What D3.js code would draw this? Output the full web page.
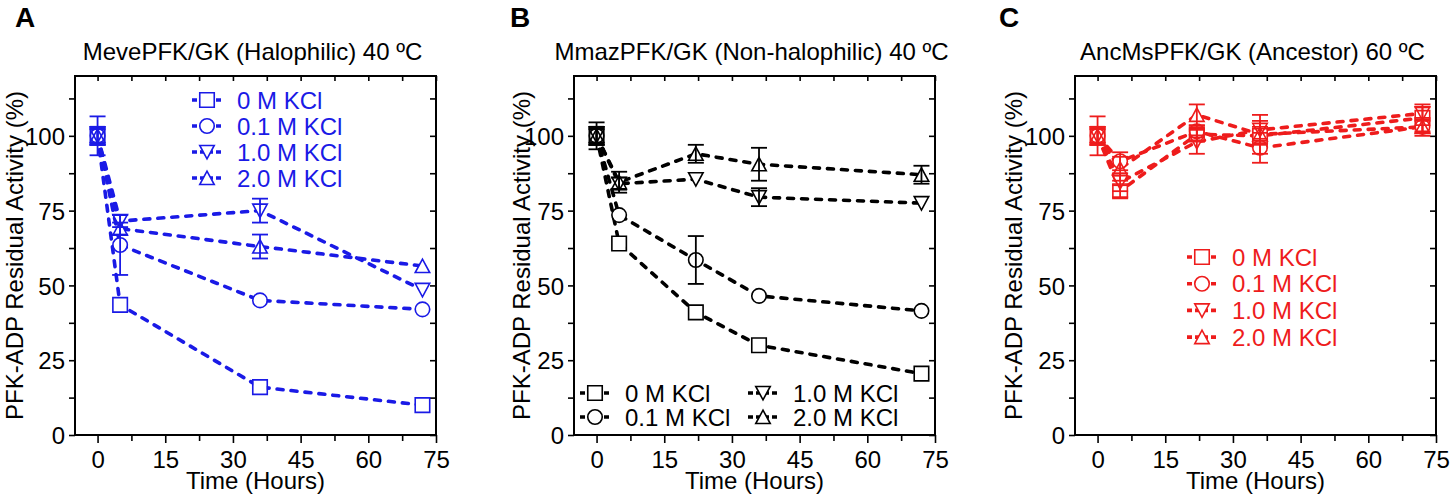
<!DOCTYPE html>
<html lang="en">
<head>
<meta charset="UTF-8">
<title>PFK/GK residual activity</title>
<script src="https://cdnjs.cloudflare.com/ajax/libs/d3/7.8.5/d3.min.js"></script>
<style>
  body { margin: 0; padding: 0; background: #fff; }
  svg { display: block; font-family: Arial, "Liberation Sans", sans-serif; }
</style>
</head>
<body>
<svg id="chart" width="1452" height="499"></svg>
<script>
  // ---- data ----
  const seriesNames = ["0 M KCl", "0.1 M KCl", "1.0 M KCl", "2.0 M KCl"];
  const markerTypes = ["square", "circle", "down", "up"];

  const xTicks = [0, 15, 30, 45, 60, 75];
  const yTicks = [0, 25, 50, 75, 100];

  // Panel A: MevePFK/GK (Halophilic) 40 ºC
  const timesA = [0, 5, 36, 72];
  const a0M   = [100, 43.5, 16, 10];
  const a01M  = [100, 63.5, 45, 42];
  const a1M   = [100, 71.5, 75, 48.5];
  const a2M   = [100, 69, 63, 56.5];
  const a0Err  = [6.5, 0, 0, 0];
  const a01Err = [3, 10, 0, 0];
  const a1Err  = [3, 2, 4, 0];
  const a2Err  = [3, 2, 4, 0];

  // Panel B: MmazPFK/GK (Non-halophilic) 40 ºC
  const timesB = [0, 5, 22, 36, 72];
  const b0M   = [100, 64, 41, 30, 20.5];
  const b01M  = [100, 73.5, 58.5, 46.5, 41.5];
  const b1M   = [100, 84, 85.5, 79.5, 77.5];
  const b2M   = [100, 84.5, 94, 90.5, 87];
  const b0Err  = [4.5, 0, 0, 0, 0];
  const b01Err = [3, 0, 8, 0, 0];
  const b1Err  = [3, 2, 0, 3, 0];
  const b2Err  = [3, 3.5, 3, 5.5, 3];

  // Panel C: AncMsPFK/GK (Ancestor) 60 ºC
  const timesC = [0, 5, 22, 36, 72];
  const c0M   = [100, 81.5, 100.5, 100, 106];
  const c01M  = [100, 91.5, 101.5, 96, 103];
  const c1M   = [100, 84.5, 98, 102, 107.5];
  const c2M   = [100, 89, 107, 100.5, 103];
  const c0Err  = [6.5, 2, 2, 3, 4.5];
  const c01Err = [3, 3, 2, 5, 2];
  const c1Err  = [3, 3, 4, 3, 2];
  const c2Err  = [3, 4, 3.5, 6.5, 3];

  const panels = [
    { letter: "A", title: "MevePFK/GK (Halophilic) 40 ºC", color: "#1a1ae6", left: 75, yLabelX: 23, letterX: 15,
      times: timesA, values: [a0M, a01M, a1M, a2M], errors: [a0Err, a01Err, a1Err, a2Err],
      legend: { cols: 1, x: 207, y: 100, dy: 26, colDx: 0 } },
    { letter: "B", title: "MmazPFK/GK (Non-halophilic) 40 ºC", color: "#000", left: 574, yLabelX: 530, letterX: 510,
      times: timesB, values: [b0M, b01M, b1M, b2M], errors: [b0Err, b01Err, b1Err, b2Err],
      legend: { cols: 2, x: 595, y: 393, dy: 24, colDx: 168 } },
    { letter: "C", title: "AncMsPFK/GK (Ancestor) 60 ºC", color: "#ee1c1c", left: 1075, yLabelX: 1022, letterX: 999,
      times: timesC, values: [c0M, c01M, c1M, c2M], errors: [c0Err, c01Err, c1Err, c2Err],
      legend: { cols: 1, x: 1202, y: 257, dy: 26.7, colDx: 0 } }
  ];

  const svg = d3.select("#chart");
  const defs = svg.append("defs");
  const plotTop = 76, W = 361, H = 359, markSize = 14.5;

  function markerPath(type, s) {
    const h = s / 2;
    if (type === "square") return `M${-h},${-h}H${h}V${h}H${-h}Z`;
    if (type === "circle") return `M${h},0A${h},${h} 0 1,1 ${-h},0A${h},${h} 0 1,1 ${h},0Z`;
    if (type === "down") return `M${-h},${-h * 0.9}H${h}L0,${h * 0.95}Z`;
    return `M${-h},${h * 0.9}H${h}L0,${-h * 0.95}Z`;
  }

  panels.forEach(p => {
    const x = d3.scaleLinear().domain([-5, 75]).range([0, W]);
    const y = d3.scaleLinear().domain([0, 120]).range([H, 0]);
    const g = svg.append("g").attr("transform", `translate(${p.left},${plotTop})`);

    // panel letter and title
    svg.append("text").attr("x", p.letterX).attr("y", 27)
      .attr("font-size", 28).attr("font-weight", "bold").text(p.letter);
    svg.append("text").attr("x", p.left + W / 2 - 3).attr("y", 60)
      .attr("text-anchor", "middle").attr("font-size", 24).text(p.title);

    // axes
    const xAll = d3.range(0, 75.01, 7.5);
    const yAll = d3.range(0, 119, 12.5);

    const gx = g.append("g").attr("transform", `translate(0,${H})`)
      .call(d3.axisBottom(x).tickValues(xAll).tickSize(8)
        .tickFormat(d => xTicks.includes(d) ? d : ""));
    gx.selectAll(".tick line").attr("y2", d => xTicks.includes(d) ? 8 : 6);
    gx.selectAll(".tick text").attr("y", 33).attr("dy", 0).attr("font-size", 24);

    const gy = g.append("g")
      .call(d3.axisLeft(y).tickValues(yAll).tickSize(6).tickPadding(4)
        .tickFormat(d => yTicks.includes(d) ? d : ""));
    gy.selectAll(".tick text").attr("dy", "0.36em").attr("font-size", 24);

    g.append("g").call(d3.axisTop(x).tickValues(xAll).tickSize(-5).tickFormat(""));
    g.append("g").attr("transform", `translate(${W},0)`)
      .call(d3.axisRight(y).tickValues(yAll).tickSize(-6).tickFormat(""));

    g.selectAll(".domain").remove();
    g.selectAll(".tick line").attr("stroke", "#000").attr("stroke-width", 1.6);
    g.selectAll(".tick text").attr("fill", "#000").attr("font-family", "Arial, 'Liberation Sans', sans-serif");

    g.append("rect").attr("width", W).attr("height", H)
      .attr("fill", "none").attr("stroke", "#000").attr("stroke-width", 2);

    // axis titles
    svg.append("text").attr("x", p.left + W / 2).attr("y", 489)
      .attr("text-anchor", "middle").attr("font-size", 24).text("Time (Hours)");
    svg.append("text")
      .attr("transform", `translate(${p.yLabelX},${plotTop + H / 2}) rotate(-90)`)
      .attr("text-anchor", "middle").attr("font-size", 24)
      .text("PFK-ADP Residual Activity (%)");

    // mask so the dashed lines stop at the hollow markers
    const mask = defs.append("mask").attr("id", "mask" + p.letter)
      .attr("maskUnits", "userSpaceOnUse")
      .attr("x", -20).attr("y", -20).attr("width", W + 40).attr("height", H + 40);
    mask.append("rect").attr("x", -20).attr("y", -20).attr("width", W + 40).attr("height", H + 40).attr("fill", "#fff");
    p.values.forEach((vals, si) => {
      p.times.forEach((t, i) => {
        mask.append("path").attr("d", markerPath(markerTypes[si], markSize - 1))
          .attr("transform", `translate(${x(t)},${y(vals[i])})`).attr("fill", "#000");
      });
    });

    const line = d3.line().x(d => x(d[0])).y(d => y(d[1]));

    // dashed lines
    const lines = g.append("g").attr("mask", `url(#mask${p.letter})`);
    p.values.forEach(vals => {
      lines.append("path").datum(p.times.map((t, i) => [t, vals[i]]))
        .attr("d", line).attr("fill", "none").attr("stroke", p.color)
        .attr("stroke-width", 3.6).attr("stroke-dasharray", "6,8")
        .attr("stroke-linecap", "round");
    });

    // error bars
    p.values.forEach((vals, si) => {
      p.times.forEach((t, i) => {
        const e = p.errors[si][i];
        if (!e) return;
        const cx = x(t);
        const eb = g.append("g").attr("stroke", p.color).attr("stroke-width", 1.8);
        eb.append("line").attr("x1", cx).attr("x2", cx).attr("y1", y(vals[i] - e)).attr("y2", y(vals[i] + e));
        [vals[i] - e, vals[i] + e].forEach(v => {
          eb.append("line").attr("x1", cx - 8).attr("x2", cx + 8).attr("y1", y(v)).attr("y2", y(v));
        });
      });
    });

    // markers
    p.values.forEach((vals, si) => {
      p.times.forEach((t, i) => {
        g.append("path").attr("d", markerPath(markerTypes[si], markSize))
          .attr("transform", `translate(${x(t)},${y(vals[i])})`)
          .attr("fill", "none").attr("stroke", p.color).attr("stroke-width", 1.6);
      });
    });

    // legend
    const L = p.legend;
    const rows = L.cols === 1 ? 4 : 2;
    seriesNames.forEach((name, si) => {
      const col = Math.floor(si / rows), row = si % rows;
      const sx = L.x + col * L.colDx, sy = L.y + row * L.dy;
      const lg = svg.append("g");
      lg.append("line").attr("x1", sx - 15).attr("x2", sx + 15).attr("y1", sy).attr("y2", sy)
        .attr("stroke", p.color).attr("stroke-width", 3.6).attr("stroke-dasharray", "5,3");
      lg.append("path").attr("d", markerPath(markerTypes[si], markSize))
        .attr("transform", `translate(${sx},${sy})`)
        .attr("fill", "#fff").attr("stroke", p.color).attr("stroke-width", 1.6);
      lg.append("text").attr("x", sx + 30).attr("y", sy + 8.5)
        .attr("font-size", 24).attr("fill", p.color).text(name);
    });
  });
</script>
</body>
</html>
